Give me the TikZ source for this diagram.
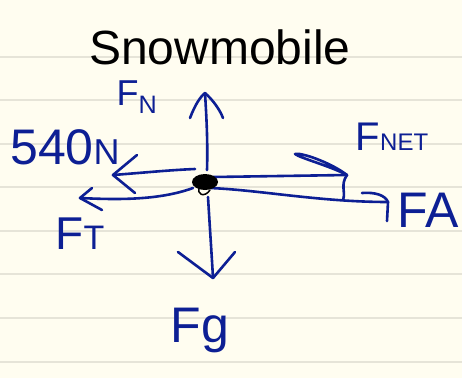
\documentclass[tikz,border=0pt]{standalone}
\usepackage{fontspec}
\setmainfont{Liberation Sans}
\definecolor{paper}{HTML}{FFFDF0}
\definecolor{rule}{HTML}{E6E4D8}
\definecolor{ink}{HTML}{0D1F94}
\begin{document}
\begin{tikzpicture}[x=1pt,y=-1pt,
  pen/.style={draw=ink,line width=2.6pt,line cap=round,line join=round},
  lbl/.style={text=ink,inner sep=0pt,anchor=center},
  ruling/.style={draw=rule,line width=1.2pt}]
\fill[paper] (0,0) rectangle (462,378);
\useasboundingbox (0,0) rectangle (462,378);
\foreach \y in {57,100,144,187,231,274,318,362}
  \draw[ruling] (0,\y) -- (462,\y);
% key points
\coordinate (c) at (205,182);
\coordinate (nTip) at (205,93);
\coordinate (pTip) at (113,175);
\coordinate (tTip) at (80,198);
\coordinate (gTip) at (213,278);
\coordinate (netTip) at (347,175);
\coordinate (aTip) at (388,202);
% F_N up
\draw[pen] (207,170) .. controls (208,140) and (206,110) .. (nTip);
\draw[pen] (190,118) .. controls (195,105) and (200,97) .. (nTip) .. controls (213,100) and (220,110) .. (223,118);
% 540N left
\draw[pen] (195,169) .. controls (170,170) and (140,173) .. (pTip);
\draw[pen] (137,155) -- (pTip) -- (135,193);
% F_T left
\draw[pen] (193,188) .. controls (160,200) and (120,200) .. (tTip);
\draw[pen] (92,188) -- (tTip) -- (102,210);
% F_g down
\draw[pen] (208,197) .. controls (210,230) and (212,260) .. (gTip);
\draw[pen] (178,252) -- (gTip) -- (235,252);
% F_net right
\draw[pen] (213,177) -- (netTip);
\draw[pen] (netTip) .. controls (330,162) and (300,152) .. (295,154) .. controls (300,158) and (330,166) .. (netTip);
\draw[pen] (netTip) .. controls (340,185) and (346,192) .. (343,200);
% F_A right
\draw[pen] (210,188) .. controls (260,190) and (320,202) .. (aTip);
\draw[pen] (362,193) .. controls (375,192) and (385,195) .. (aTip) -- (387,221);
% centre dot
\fill[black] (205,182) ellipse [x radius=13pt, y radius=8pt];
\draw[black,line width=1.5pt] (200,186) .. controls (195,195) and (205,198) .. (210,190);
% labels
\node[lbl,text=black,font=\fontsize{48}{50}\selectfont] (title) at (220,47) {Snowmobile};
\node[lbl,font=\fontsize{36}{40}\selectfont] (fn) at (137,97) {F\textsubscript{N}};
\node[lbl,font=\fontsize{50}{54}\selectfont] (p540) at (65,147) {540{\fontsize{36}{40}\selectfont N}};
\node[lbl,font=\fontsize{40}{44}\selectfont] (fnet) at (392,137) {F{\fontsize{24}{28}\selectfont NET}};
\node[lbl,font=\fontsize{50}{54}\selectfont] (fa) at (428,210) {FA};
\node[lbl,font=\fontsize{46}{50}\selectfont] (ft) at (80,234) {F{\fontsize{34}{38}\selectfont T}};
\node[lbl,font=\fontsize{50}{54}\selectfont] (fg) at (200,330) {Fg};
\end{tikzpicture}
\end{document}
